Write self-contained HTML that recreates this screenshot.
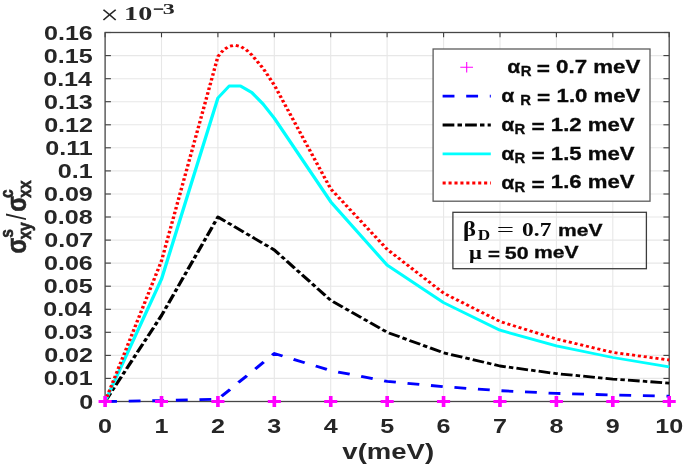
<!DOCTYPE html>
<html><head><meta charset="utf-8"><title>plot</title>
<style>
html,body{margin:0;padding:0;background:#fff;}
svg{display:block}
text{font-family:"Liberation Sans",sans-serif;font-weight:bold;fill:#262626}
.k text{fill:#0a0a0a}
.k .b{stroke:#0a0a0a;stroke-width:0.3px}
.sf{font-family:"Liberation Serif",serif}
</style></head><body>
<svg width="685" height="468" viewBox="0 0 685 468">
<rect width="685" height="468" fill="#fff"/>
<g stroke="#e7e7e7" stroke-width="1.1"><line x1="161.5" y1="401.5" x2="161.5" y2="32.5"/><line x1="217.9" y1="401.5" x2="217.9" y2="32.5"/><line x1="274.3" y1="401.5" x2="274.3" y2="32.5"/><line x1="330.7" y1="401.5" x2="330.7" y2="32.5"/><line x1="387.1" y1="401.5" x2="387.1" y2="32.5"/><line x1="443.6" y1="401.5" x2="443.6" y2="32.5"/><line x1="500.0" y1="401.5" x2="500.0" y2="32.5"/><line x1="556.4" y1="401.5" x2="556.4" y2="32.5"/><line x1="612.8" y1="401.5" x2="612.8" y2="32.5"/><line x1="105.1" y1="378.4" x2="669.2" y2="378.4"/><line x1="105.1" y1="355.4" x2="669.2" y2="355.4"/><line x1="105.1" y1="332.3" x2="669.2" y2="332.3"/><line x1="105.1" y1="309.3" x2="669.2" y2="309.3"/><line x1="105.1" y1="286.2" x2="669.2" y2="286.2"/><line x1="105.1" y1="263.1" x2="669.2" y2="263.1"/><line x1="105.1" y1="240.1" x2="669.2" y2="240.1"/><line x1="105.1" y1="217.0" x2="669.2" y2="217.0"/><line x1="105.1" y1="194.0" x2="669.2" y2="194.0"/><line x1="105.1" y1="170.9" x2="669.2" y2="170.9"/><line x1="105.1" y1="147.8" x2="669.2" y2="147.8"/><line x1="105.1" y1="124.8" x2="669.2" y2="124.8"/><line x1="105.1" y1="101.7" x2="669.2" y2="101.7"/><line x1="105.1" y1="78.7" x2="669.2" y2="78.7"/><line x1="105.1" y1="55.6" x2="669.2" y2="55.6"/></g>
<g stroke="#3c3c3c" stroke-width="1.1"><line x1="105.1" y1="401.5" x2="105.1" y2="396.7"/><line x1="105.1" y1="32.5" x2="105.1" y2="37.3"/><line x1="161.5" y1="401.5" x2="161.5" y2="396.7"/><line x1="161.5" y1="32.5" x2="161.5" y2="37.3"/><line x1="217.9" y1="401.5" x2="217.9" y2="396.7"/><line x1="217.9" y1="32.5" x2="217.9" y2="37.3"/><line x1="274.3" y1="401.5" x2="274.3" y2="396.7"/><line x1="274.3" y1="32.5" x2="274.3" y2="37.3"/><line x1="330.7" y1="401.5" x2="330.7" y2="396.7"/><line x1="330.7" y1="32.5" x2="330.7" y2="37.3"/><line x1="387.1" y1="401.5" x2="387.1" y2="396.7"/><line x1="387.1" y1="32.5" x2="387.1" y2="37.3"/><line x1="443.6" y1="401.5" x2="443.6" y2="396.7"/><line x1="443.6" y1="32.5" x2="443.6" y2="37.3"/><line x1="500.0" y1="401.5" x2="500.0" y2="396.7"/><line x1="500.0" y1="32.5" x2="500.0" y2="37.3"/><line x1="556.4" y1="401.5" x2="556.4" y2="396.7"/><line x1="556.4" y1="32.5" x2="556.4" y2="37.3"/><line x1="612.8" y1="401.5" x2="612.8" y2="396.7"/><line x1="612.8" y1="32.5" x2="612.8" y2="37.3"/><line x1="669.2" y1="401.5" x2="669.2" y2="396.7"/><line x1="669.2" y1="32.5" x2="669.2" y2="37.3"/><line x1="105.1" y1="401.5" x2="110.9" y2="401.5"/><line x1="669.2" y1="401.5" x2="663.4" y2="401.5"/><line x1="105.1" y1="378.4" x2="110.9" y2="378.4"/><line x1="669.2" y1="378.4" x2="663.4" y2="378.4"/><line x1="105.1" y1="355.4" x2="110.9" y2="355.4"/><line x1="669.2" y1="355.4" x2="663.4" y2="355.4"/><line x1="105.1" y1="332.3" x2="110.9" y2="332.3"/><line x1="669.2" y1="332.3" x2="663.4" y2="332.3"/><line x1="105.1" y1="309.3" x2="110.9" y2="309.3"/><line x1="669.2" y1="309.3" x2="663.4" y2="309.3"/><line x1="105.1" y1="286.2" x2="110.9" y2="286.2"/><line x1="669.2" y1="286.2" x2="663.4" y2="286.2"/><line x1="105.1" y1="263.1" x2="110.9" y2="263.1"/><line x1="669.2" y1="263.1" x2="663.4" y2="263.1"/><line x1="105.1" y1="240.1" x2="110.9" y2="240.1"/><line x1="669.2" y1="240.1" x2="663.4" y2="240.1"/><line x1="105.1" y1="217.0" x2="110.9" y2="217.0"/><line x1="669.2" y1="217.0" x2="663.4" y2="217.0"/><line x1="105.1" y1="194.0" x2="110.9" y2="194.0"/><line x1="669.2" y1="194.0" x2="663.4" y2="194.0"/><line x1="105.1" y1="170.9" x2="110.9" y2="170.9"/><line x1="669.2" y1="170.9" x2="663.4" y2="170.9"/><line x1="105.1" y1="147.8" x2="110.9" y2="147.8"/><line x1="669.2" y1="147.8" x2="663.4" y2="147.8"/><line x1="105.1" y1="124.8" x2="110.9" y2="124.8"/><line x1="669.2" y1="124.8" x2="663.4" y2="124.8"/><line x1="105.1" y1="101.7" x2="110.9" y2="101.7"/><line x1="669.2" y1="101.7" x2="663.4" y2="101.7"/><line x1="105.1" y1="78.7" x2="110.9" y2="78.7"/><line x1="669.2" y1="78.7" x2="663.4" y2="78.7"/><line x1="105.1" y1="55.6" x2="110.9" y2="55.6"/><line x1="669.2" y1="55.6" x2="663.4" y2="55.6"/><line x1="105.1" y1="32.5" x2="110.9" y2="32.5"/><line x1="669.2" y1="32.5" x2="663.4" y2="32.5"/></g>
<rect x="105.1" y="32.5" width="564.1" height="369.0" fill="none" stroke="#464646" stroke-width="1.3"/>
<g transform="scale(1.210,1)">
<g fill="none" stroke-linejoin="round" stroke-width="2.8">
<polyline points="86.86,401.5 133.48,400.6 180.10,399.2 226.72,353.5 273.34,370.6 319.96,381.4 366.58,386.7 413.20,390.7 459.82,393.4 506.44,395.0 553.06,396.2" stroke="#0000ff" stroke-dasharray="9.8 9.7"/>
<polyline points="86.86,401.5 133.48,315.5 180.10,217.0 226.72,250.0 273.34,300.3 319.96,332.3 366.58,352.8 413.20,366.0 459.82,373.6 506.44,379.1 553.06,383.1" stroke="#000" stroke-dasharray="9.7 2.6 3.7 2.6"/>
<polyline points="86.86,401.5 133.48,279.1 180.10,98.0 189.42,86.0 198.75,86.0 208.07,92.5 217.40,104.0 226.72,118.3 273.34,201.8 319.96,265.2 366.58,302.6 413.20,330.2 459.82,345.9 506.44,357.5 553.06,366.9" stroke="#00ffff"/>
<polyline points="86.86,401.5 133.48,260.8 180.10,56.5 184.76,49.8 189.42,46.4 194.09,45.2 198.75,46.4 203.41,49.8 208.07,54.9 217.40,68.3 226.72,85.1 273.34,188.9 319.96,249.3 366.58,293.1 413.20,321.5 459.82,339.0 506.44,352.4 553.06,360.0" stroke="#ff0000" stroke-dasharray="2.55 2.35"/>
</g>
<g stroke="#ff00ff" stroke-width="3" fill="none"><path d="M81.46 401.5H92.26M86.86 396.1V406.9"/><path d="M128.08 401.5H138.88M133.48 396.1V406.9"/><path d="M174.70 401.5H185.50M180.10 396.1V406.9"/><path d="M221.32 401.5H232.12M226.72 396.1V406.9"/><path d="M267.94 401.5H278.74M273.34 396.1V406.9"/><path d="M314.56 401.5H325.36M319.96 396.1V406.9"/><path d="M361.18 401.5H371.98M366.58 396.1V406.9"/><path d="M407.80 401.5H418.60M413.20 396.1V406.9"/><path d="M454.42 401.5H465.22M459.82 396.1V406.9"/><path d="M501.04 401.5H511.84M506.44 396.1V406.9"/><path d="M547.66 401.5H558.46M553.06 396.1V406.9"/></g>
</g>
<text transform="translate(105.10,432.54) scale(1.226,1)" font-size="20.49" text-anchor="middle">0</text>
<text transform="translate(161.51,432.54) scale(1.226,1)" font-size="20.49" text-anchor="middle">1</text>
<text transform="translate(217.92,432.54) scale(1.226,1)" font-size="20.49" text-anchor="middle">2</text>
<text transform="translate(274.33,432.54) scale(1.226,1)" font-size="20.49" text-anchor="middle">3</text>
<text transform="translate(330.74,432.54) scale(1.226,1)" font-size="20.49" text-anchor="middle">4</text>
<text transform="translate(387.15,432.54) scale(1.226,1)" font-size="20.49" text-anchor="middle">5</text>
<text transform="translate(443.56,432.54) scale(1.226,1)" font-size="20.49" text-anchor="middle">6</text>
<text transform="translate(499.97,432.54) scale(1.226,1)" font-size="20.49" text-anchor="middle">7</text>
<text transform="translate(556.38,432.54) scale(1.226,1)" font-size="20.49" text-anchor="middle">8</text>
<text transform="translate(612.79,432.54) scale(1.226,1)" font-size="20.49" text-anchor="middle">9</text>
<text transform="translate(669.20,432.54) scale(1.226,1)" font-size="20.49" text-anchor="middle">10</text>
<text transform="translate(79.13,408.54) scale(1.226,1)" font-size="20.49">0</text>
<text transform="translate(43.81,385.48) scale(1.226,1)" font-size="20.49">0.01</text>
<text transform="translate(44.13,362.42) scale(1.226,1)" font-size="20.49">0.02</text>
<text transform="translate(43.97,339.36) scale(1.226,1)" font-size="20.49">0.03</text>
<text transform="translate(43.18,316.30) scale(1.226,1)" font-size="20.49">0.04</text>
<text transform="translate(43.81,293.24) scale(1.226,1)" font-size="20.49">0.05</text>
<text transform="translate(43.97,270.18) scale(1.226,1)" font-size="20.49">0.06</text>
<text transform="translate(44.28,247.12) scale(1.226,1)" font-size="20.49">0.07</text>
<text transform="translate(43.81,224.06) scale(1.226,1)" font-size="20.49">0.08</text>
<text transform="translate(43.97,201.00) scale(1.226,1)" font-size="20.49">0.09</text>
<text transform="translate(57.78,177.94) scale(1.226,1)" font-size="20.49">0.1</text>
<text transform="translate(45.23,154.88) scale(1.226,1)" font-size="20.49">0.11</text>
<text transform="translate(44.13,131.82) scale(1.226,1)" font-size="20.49">0.12</text>
<text transform="translate(43.97,108.76) scale(1.226,1)" font-size="20.49">0.13</text>
<text transform="translate(43.18,85.70) scale(1.226,1)" font-size="20.49">0.14</text>
<text transform="translate(43.81,62.64) scale(1.226,1)" font-size="20.49">0.15</text>
<text transform="translate(43.97,39.58) scale(1.226,1)" font-size="20.49">0.16</text>
<text transform="translate(342.33,458.59) scale(1.232,1)" font-size="22.34">v(meV)</text>
<g style="stroke:#262626;stroke-width:0.5px">
<text transform="translate(26.10,253.46) rotate(-90) scale(1,1.210)" font-size="23.00">σ</text>
<text transform="translate(13.20,237.78) rotate(-90) scale(1,1.210)" font-size="15.50">s</text>
<text transform="translate(30.80,239.50) rotate(-90) scale(1,1.210)" font-size="15.50">xy</text>
<text transform="translate(26.10,211.76) rotate(-90) scale(1,1.210)" font-size="23.00">σ</text>
<text transform="translate(13.20,197.98) rotate(-90) scale(1,1.210)" font-size="15.50">c</text>
<text transform="translate(30.80,197.70) rotate(-90) scale(1,1.210)" font-size="15.50">xx</text>
</g>
<text transform="translate(26.10,219.90) rotate(-90) scale(1,1.210)" font-size="23.00" style="font-weight:normal">/</text>
<text transform="translate(100.32,23.98) scale(1.211,1)" font-size="27.25" class="sf" style="font-weight:normal">×</text>
<text transform="translate(124.11,20.28) scale(1.470,1)" font-size="19.14" class="sf">10</text>
<text transform="translate(162.70,13.80) scale(1.558,1)" font-size="15.40" class="sf">3</text>
<text transform="translate(153,14.1) scale(1.25,1)" font-size="15" class="sf" style="stroke:#262626;stroke-width:0.5px">−</text>
<rect x="433.1" y="49" width="216.9" height="152.2" fill="#fff" stroke="#5c5c5c" stroke-width="1.3"/>
<g transform="scale(1.210,1)">
<path d="M380.41 67.2H390.91M385.70 61.9V72.6" stroke="#ff00ff" stroke-width="0.9" fill="none"/>
<g stroke-width="2.8">
<line x1="365.79" x2="405.62" y1="96.1" y2="96.1" stroke="#0000ff" stroke-dasharray="9.8 9.7"/>
<line x1="365.79" x2="405.62" y1="125" y2="125" stroke="#000" stroke-dasharray="9.7 2.6 3.7 2.6"/>
<line x1="365.79" x2="405.62" y1="153.9" y2="153.9" stroke="#00ffff"/>
<line x1="365.79" x2="405.62" y1="183" y2="183" stroke="#ff0000" stroke-dasharray="2.55 2.35"/>
</g></g>
<g style="fill:#000" class="k">
<text transform="translate(507.31,73.08) scale(1.128,1)" font-size="18.76" class="b">α</text>
<text transform="translate(520.68,76.30) scale(1.014,1)" font-size="14.69" class="b">R</text>
<text transform="translate(536.81,75.10) scale(1.242,1)" font-size="18.20" class="b">=</text>
<text transform="translate(556.06,72.90) scale(1.226,1)" font-size="18.20" class="b">0.7 meV</text>
<text transform="translate(501.21,101.88) scale(1.128,1)" font-size="18.76" class="b">α</text>
<text transform="translate(520.28,105.10) scale(1.014,1)" font-size="14.69" class="b">R</text>
<text transform="translate(537.01,103.90) scale(1.242,1)" font-size="18.20" class="b">=</text>
<text transform="translate(556.61,101.70) scale(1.218,1)" font-size="18.20" class="b">1.0 meV</text>
<text transform="translate(501.21,130.78) scale(1.128,1)" font-size="18.76" class="b">α</text>
<text transform="translate(514.58,134.00) scale(1.014,1)" font-size="14.69" class="b">R</text>
<text transform="translate(531.41,132.80) scale(1.242,1)" font-size="18.20" class="b">=</text>
<text transform="translate(550.81,130.60) scale(1.218,1)" font-size="18.20" class="b">1.2 meV</text>
<text transform="translate(501.21,159.68) scale(1.128,1)" font-size="18.76" class="b">α</text>
<text transform="translate(514.58,162.90) scale(1.014,1)" font-size="14.69" class="b">R</text>
<text transform="translate(531.41,161.70) scale(1.242,1)" font-size="18.20" class="b">=</text>
<text transform="translate(550.81,159.50) scale(1.218,1)" font-size="18.20" class="b">1.5 meV</text>
<text transform="translate(501.21,188.58) scale(1.128,1)" font-size="18.76" class="b">α</text>
<text transform="translate(514.58,191.80) scale(1.014,1)" font-size="14.69" class="b">R</text>
<text transform="translate(531.41,190.60) scale(1.242,1)" font-size="18.20" class="b">=</text>
<text transform="translate(550.81,188.40) scale(1.218,1)" font-size="18.20" class="b">1.6 meV</text>
<rect x="452.9" y="212.3" width="193.5" height="56.4" fill="none" stroke="#3c3c3c" stroke-width="1.3"/>
<text transform="translate(463.01,235.50) scale(1.219,1)" font-size="20.24" class="sf">β</text>
<text transform="translate(477.68,239.50) scale(1.165,1)" font-size="14.78" class="sf">D</text>
<text transform="translate(496.66,235.90) scale(1.616,1)" font-size="19.00" class="sf" style="font-weight:normal">=</text>
<text transform="translate(522.12,235.66) scale(1.235,1)" font-size="18.96" class="sf">0.7</text>
<text transform="translate(558.05,235.70) scale(1.284,1)" font-size="16.40" class="b">meV</text>
<text transform="translate(469.02,258.56) scale(1.191,1)" font-size="18.99" class="sf">μ</text>
<text transform="translate(488.11,259.90) scale(1.244,1)" font-size="16.40" class="b">=</text>
<text transform="translate(504.83,258.69) scale(1.259,1)" font-size="16.99" class="b">50</text>
<text transform="translate(534.05,258.40) scale(1.287,1)" font-size="16.40" class="b">meV</text>
</g>
</svg></body></html>
